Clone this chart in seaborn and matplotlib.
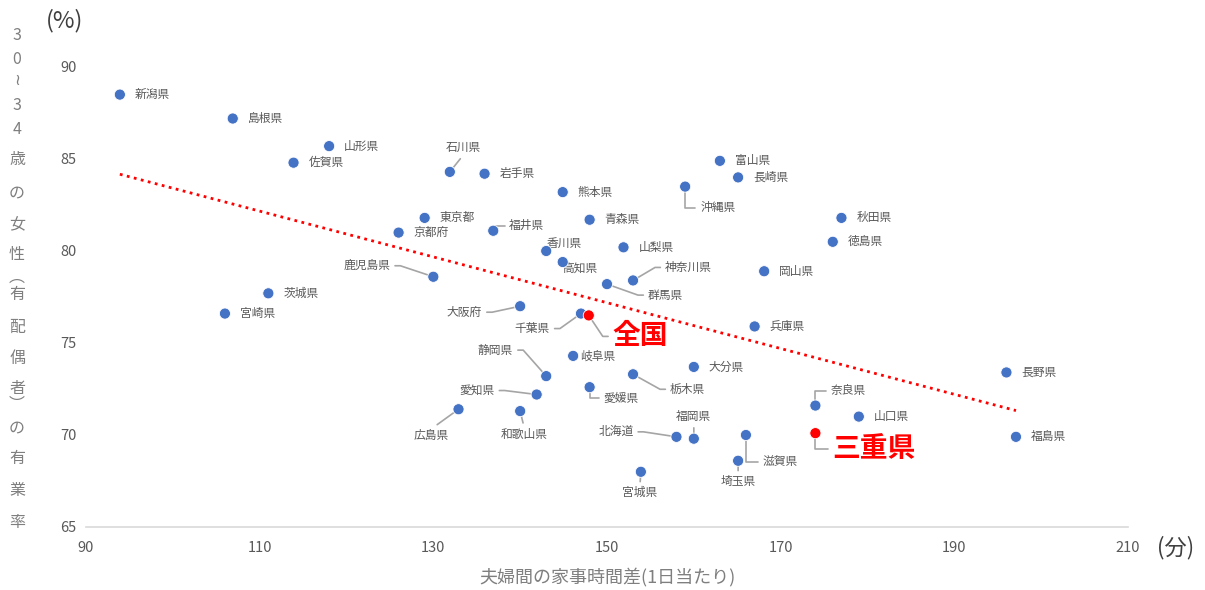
import numpy as np
import pandas as pd
import matplotlib
matplotlib.use("Agg")
import matplotlib.pyplot as plt
import seaborn as sns

# Data
prefs = ["新潟県", "島根県", "山形県", "佐賀県", "石川県", "岩手県", "熊本県", "富山県",
         "長崎県", "沖縄県", "秋田県", "徳島県", "東京都", "京都府", "福井県", "青森県",
         "香川県", "山梨県", "高知県", "鹿児島県", "神奈川県", "群馬県", "岡山県", "茨城県",
         "宮崎県", "大阪府", "千葉県", "兵庫県", "岐阜県", "静岡県", "大分県", "栃木県",
         "愛媛県", "愛知県", "広島県", "和歌山県", "奈良県", "山口県", "長野県", "福島県",
         "北海道", "福岡県", "滋賀県", "三重県", "埼玉県", "宮城県"]
housework_gap = [93.9, 106.9, 118.0, 113.9, 131.9, 135.9, 144.9, 163.0,
                 165.1, 159.0, 177.0, 176.0, 129.0, 126.0, 136.9, 148.0,
                 143.0, 151.9, 144.9, 130.0, 153.0, 150.0, 168.1, 111.0,
                 106.0, 140.0, 147.0, 167.0, 146.1, 143.0, 160.0, 153.0,
                 148.0, 141.9, 132.9, 140.0, 174.0, 179.0, 196.0, 197.1,
                 158.0, 160.0, 166.0, 174.0, 165.1, 153.9]
employment_rate = [88.5, 87.2, 85.7, 84.8, 84.3, 84.2, 83.2, 84.9,
                   84.0, 83.5, 81.8, 80.5, 81.8, 81.0, 81.1, 81.7,
                   80.0, 80.2, 79.4, 78.6, 78.4, 78.2, 78.9, 77.7,
                   76.6, 77.0, 76.6, 75.9, 74.3, 73.2, 73.7, 73.3,
                   72.6, 72.2, 71.4, 71.3, 71.6, 71.0, 73.4, 69.9,
                   69.9, 69.8, 70.0, 70.1, 68.6, 68.0]

national_name = "全国"
national_gap = 147.9
national_rate = 76.5

highlight = ["三重県", "全国"]

df = pd.DataFrame({"name": prefs, "gap": housework_gap, "rate": employment_rate})
df_all = pd.concat([df, pd.DataFrame({"name": [national_name], "gap": [national_gap],
                                      "rate": [national_rate]})], ignore_index=True)
df_all["group"] = np.where(df_all["name"].isin(highlight), "hl", "pref")

# label placement: name -> (dx px, dy px, ha, leader)
label_layout = {
    "石川県": (14, 24, "center", "line"),
    "沖縄県": (15, -21, "left", "elbow"),
    "福井県": (16, 5, "left", "elbow"),
    "香川県": (18, 8, "center", None),
    "高知県": (17, -6, "center", None),
    "鹿児島県": (-43, 11, "right", "arm"),
    "神奈川県": (32, 13, "left", "arm"),
    "群馬県": (41, -11, "left", "arm"),
    "大阪府": (-38, -6, "right", "arm"),
    "千葉県": (-31, -15, "right", "arm"),
    "全国": (24, -21, "left", "arm"),
    "岐阜県": (7, 0, "left", None),
    "静岡県": (-33, 26, "right", "arm"),
    "栃木県": (37, -15, "left", "arm"),
    "愛媛県": (14, -11, "left", "elbow"),
    "愛知県": (-42, 4, "right", "arm"),
    "広島県": (-27, -26, "center", "line"),
    "和歌山県": (4, -23, "center", "line"),
    "奈良県": (15, 15, "left", "elbow"),
    "北海道": (-43, 5, "right", "arm"),
    "福岡県": (0, 22, "center", "line"),
    "滋賀県": (17, -27, "left", "elbow"),
    "三重県": (17, -16, "left", "elbow"),
    "埼玉県": (0, -21, "center", "line"),
    "宮城県": (-1, -21, "center", "line"),
}

sns.set_style("white")
plt.rcParams["font.family"] = ["Noto Sans CJK JP", "DejaVu Sans"]

fig = plt.figure(figsize=(12.05, 5.9), dpi=100)
ax = fig.add_axes([86 / 1205, 63 / 590, (1128 - 86) / 1205, (527 - 67) / 590])

# trend line over the prefectures
sns.regplot(data=df, x="gap", y="rate", scatter=False, ci=None, ax=ax,
            line_kws={"color": "#FF0000", "linestyle": (0, (1, 1.6)), "linewidth": 2})

sns.scatterplot(data=df_all, x="gap", y="rate", hue="group",
                palette={"pref": "#4472C4", "hl": "#FF0000"}, s=64,
                edgecolor="white", linewidth=0.6, legend=False, ax=ax, zorder=4)

for _, row in df_all.iterrows():
    name = row["name"]
    dx, dy, ha, leader = label_layout.get(name, (15, 0, "left", None))
    if name in highlight:
        style = dict(fontsize=20, fontweight="bold", color="#FF0000")
    else:
        style = dict(fontsize=8.5, color="#595959")
    if ha == "left":
        relpos = (0, 0.5)
    elif ha == "right":
        relpos = (1, 0.5)
    else:
        relpos = (0.5, 1) if dy < 0 else (0.5, 0)
    arrow = None
    if leader == "line":
        arrow = dict(arrowstyle="-", color="#A5A5A5", lw=1.2, relpos=relpos,
                     shrinkA=1, shrinkB=0, connectionstyle="arc3")
    elif leader == "arm":
        ang = 180 if dx > 0 else 0
        arrow = dict(arrowstyle="-", color="#A5A5A5", lw=1.2, relpos=relpos,
                     shrinkA=1, shrinkB=0,
                     connectionstyle=f"arc,angleA={ang},armA=10,angleB=0,armB=0,rad=0")
    elif leader == "elbow":
        arrow = dict(arrowstyle="-", color="#A5A5A5", lw=1.2, relpos=relpos,
                     shrinkA=1, shrinkB=0,
                     connectionstyle="angle,angleA=0,angleB=90,rad=0")
    ax.annotate(name, xy=(row["gap"], row["rate"]), xytext=(dx, dy),
                textcoords="offset pixels", ha=ha, va="center",
                arrowprops=arrow, zorder=3, **style)

ax.set_xlim(90, 210)
ax.set_ylim(65, 90)
ax.set_xticks(range(90, 211, 20))
ax.set_yticks(range(65, 91, 5))
ax.set_xlabel("")
ax.set_ylabel("")
for side in ["left", "top", "right"]:
    ax.spines[side].set_visible(False)
ax.spines["bottom"].set_color("#D9D9D9")
ax.spines["bottom"].set_linewidth(1.2)
ax.tick_params(axis="both", length=0, labelsize=10.5, labelcolor="#595959")
ax.tick_params(axis="x", pad=10)
ax.tick_params(axis="y", pad=7)

fig.text(607 / 1205, 1 - 577 / 590, "夫婦間の家事時間差(1日当たり)", ha="center", va="center",
         fontsize=13, color="#7F7F7F")
fig.text(65 / 1205, 1 - 21 / 590, "(%)", ha="center", va="center", fontsize=17, color="#404040")
fig.text(1176 / 1205, 1 - 548 / 590, "(分)", ha="center", va="center", fontsize=16, color="#404040")

# vertical stacked y-axis label
ylabel_chars = "30≀34歳の女性︵有配偶者︶の有業率"
ylabel_y = [35, 60, 81, 105, 130, 160, 193, 225, 255, 277, 295, 327, 358, 388, 404,
            428, 459, 490, 522]
for ch, yy in zip(ylabel_chars, ylabel_y):
    fig.text(17 / 1205, 1 - yy / 590, ch, ha="center", va="center", fontsize=11.5,
             color="#7F7F7F")

fig.savefig("out.png", dpi=100)
